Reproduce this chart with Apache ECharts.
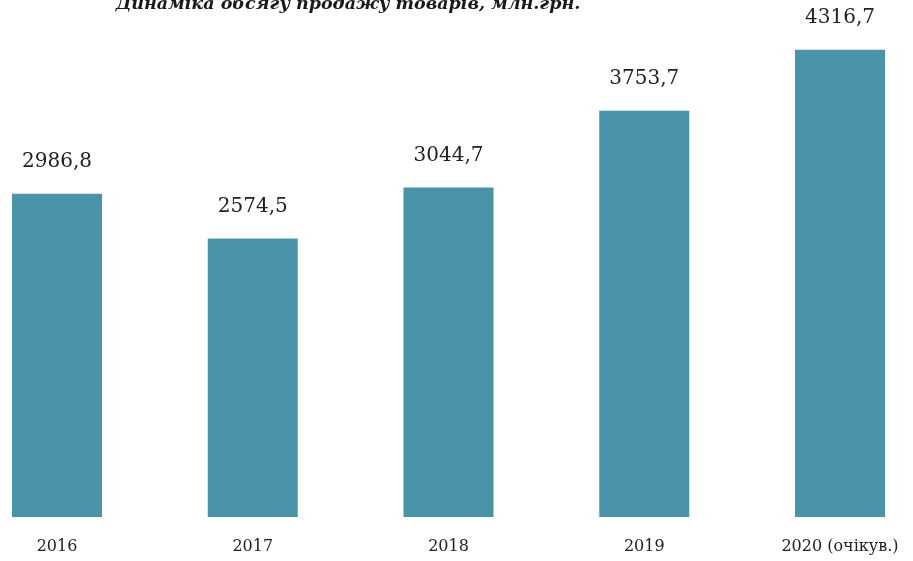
<!DOCTYPE html>
<html>
<head>
<meta charset="utf-8">
<script src="https://cdn.jsdelivr.net/npm/echarts@6/dist/echarts.min.js"></script>
<style>
html,body{margin:0;padding:0;background:#fff;}
#chart{width:913px;height:561px;}
</style>
</head>
<body>
<div id="chart"></div>
<script>
const titleText = 'Динаміка обсягу продажу товарів, млн.грн.';
const categories = ['2016', '2017', '2018', '2019', '2020 (очікув.)'];
const salesValues = [2986.8, 2574.5, 3044.7, 3753.7, 4316.7];

const chart = echarts.init(document.getElementById('chart'), null, {renderer: 'canvas'});
chart.setOption({
  animation: false,
  backgroundColor: '#ffffff',
  graphic: [{
    type: 'text',
    x: 348,
    y: 13,
    style: {
      text: titleText,
      textAlign: 'center',
      textVerticalAlign: 'bottom',
      font: 'italic bold 17.5px "DejaVu Serif"',
      fill: '#1a1a1a'
    }
  }],
  grid: {left: 57, right: 73, top: 30, bottom: 44, containLabel: false},
  xAxis: {
    type: 'category',
    data: categories,
    boundaryGap: false,
    axisLine: {show: false},
    axisTick: {show: false},
    axisLabel: {
      margin: 22,
      fontFamily: 'DejaVu Serif',
      fontSize: 16,
      color: '#222'
    }
  },
  yAxis: {
    type: 'value',
    min: 0,
    max: 4500,
    show: false,
    splitLine: {show: false}
  },
  series: [{
    type: 'bar',
    data: salesValues,
    barWidth: 90,
    clip: false,
    itemStyle: {color: '#4a94a9'},
    label: {
      show: true,
      position: 'top',
      distance: 22,
      fontFamily: 'DejaVu Serif',
      fontSize: 20,
      color: '#222',
      formatter: p => String(p.value).replace('.', ',')
    }
  }]
});
</script>
</body>
</html>
